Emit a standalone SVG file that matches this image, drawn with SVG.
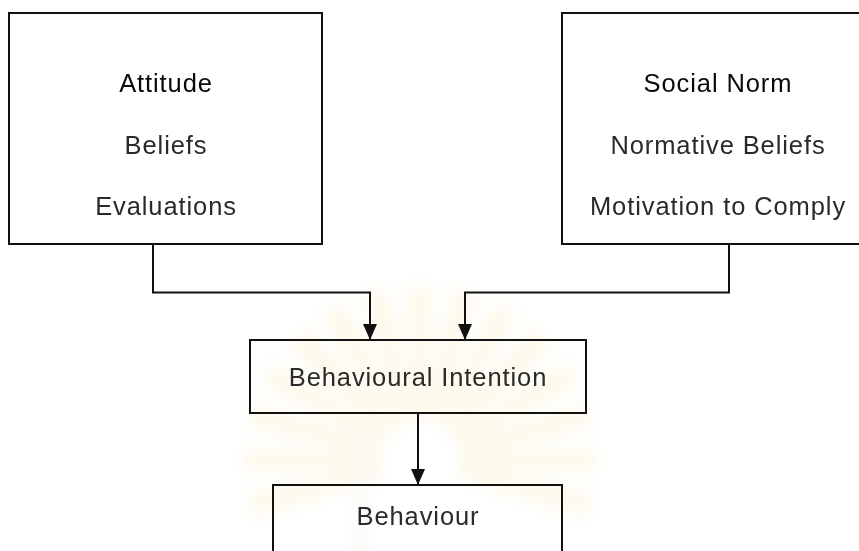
<svg xmlns="http://www.w3.org/2000/svg" width="859" height="551" viewBox="0 0 859 551">
  <defs>
    <style>
      .box { fill: none; stroke: #111; stroke-width: 2; }
      .wire { fill: none; stroke: #111; stroke-width: 2; }
      .t { font-family: "Liberation Sans", Arial, sans-serif; font-size: 25.5px; fill: #2a2a2a; text-anchor: middle; letter-spacing: 0.9px; }
      .h { fill: #0a0a0a; }
      .ray { fill: #f6e7b4; }
    </style>
    <marker id="arrow" markerWidth="16" markerHeight="14" refX="16" refY="7" orient="auto" markerUnits="userSpaceOnUse" viewBox="0 0 16 14">
      <path d="M0,0 L16,7 L0,14 Z" fill="#111"/>
    </marker>
    <filter id="soft" x="-20%" y="-20%" width="140%" height="140%">
      <feGaussianBlur stdDeviation="7"/>
    </filter>
  </defs>

  <rect width="859" height="551" fill="#fff"/>

  <!-- faint emblem watermark in the background -->
  <g id="watermark" opacity="0.25" filter="url(#soft)">
    <g transform="translate(420,460)">
      <g class="ray">
        <path d="M-8,-40 L-14,-175 L14,-175 L8,-40 Z"/>
        <path d="M-8,-40 L-14,-175 L14,-175 L8,-40 Z" transform="rotate(15)"/>
        <path d="M-8,-40 L-14,-175 L14,-175 L8,-40 Z" transform="rotate(30)"/>
        <path d="M-8,-40 L-14,-175 L14,-175 L8,-40 Z" transform="rotate(45)"/>
        <path d="M-8,-40 L-14,-175 L14,-175 L8,-40 Z" transform="rotate(60)"/>
        <path d="M-8,-40 L-14,-175 L14,-175 L8,-40 Z" transform="rotate(75)"/>
        <path d="M-8,-40 L-14,-175 L14,-175 L8,-40 Z" transform="rotate(90)"/>
        <path d="M-8,-40 L-14,-175 L14,-175 L8,-40 Z" transform="rotate(105)"/>
        <path d="M-8,-40 L-14,-175 L14,-175 L8,-40 Z" transform="rotate(-15)"/>
        <path d="M-8,-40 L-14,-175 L14,-175 L8,-40 Z" transform="rotate(-30)"/>
        <path d="M-8,-40 L-14,-175 L14,-175 L8,-40 Z" transform="rotate(-45)"/>
        <path d="M-8,-40 L-14,-175 L14,-175 L8,-40 Z" transform="rotate(-60)"/>
        <path d="M-8,-40 L-14,-175 L14,-175 L8,-40 Z" transform="rotate(-75)"/>
        <path d="M-8,-40 L-14,-175 L14,-175 L8,-40 Z" transform="rotate(-90)"/>
        <path d="M-8,-40 L-14,-175 L14,-175 L8,-40 Z" transform="rotate(-105)"/>
      </g>
      <rect x="-62" y="-5" width="10" height="110" fill="#e6e0cc"/>
      <circle cx="-57" cy="-17" r="12" fill="#e6e0cc"/>
    </g>
  </g>

  <!-- connectors -->
  <g id="connectors">
    <path class="wire" d="M153,244 V292.5 H370 V340" marker-end="url(#arrow)"/>
    <path class="wire" d="M729,244 V292.5 H465 V340" marker-end="url(#arrow)"/>
    <path class="wire" d="M418,413 V485" marker-end="url(#arrow)"/>
  </g>

  <g id="attitude">
    <rect class="box" x="9" y="13" width="313" height="231"/>
    <text class="t h" x="166" y="92">Attitude</text>
    <text class="t" x="166" y="154">Beliefs</text>
    <text class="t" x="166" y="215">Evaluations</text>
  </g>

  <g id="social-norm">
    <path class="box" d="M875,13 H562 V244 H875"/>
    <text class="t h" x="718" y="92">Social Norm</text>
    <text class="t" x="718" y="154">Normative Beliefs</text>
    <text class="t" x="718" y="215">Motivation to Comply</text>
  </g>

  <g id="behavioural-intention">
    <rect class="box" x="250" y="340" width="336" height="73"/>
    <text class="t" x="418" y="386">Behavioural Intention</text>
  </g>

  <g id="behaviour">
    <path class="box" d="M273,560 V485 H562 V560"/>
    <text class="t" x="418" y="525">Behaviour</text>
  </g>
</svg>
